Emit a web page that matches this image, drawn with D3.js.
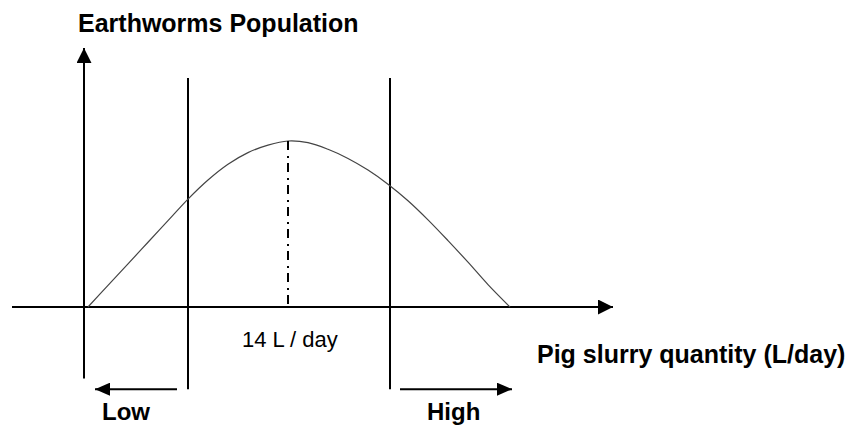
<!DOCTYPE html>
<html>
<head>
<meta charset="utf-8">
<script src="https://cdn.jsdelivr.net/npm/d3@7"></script>
<style>
  body { margin: 0; background: #fff; }
  text { font-family: "Liberation Sans", Arial, sans-serif; fill: #000; }
</style>
</head>
<body>
<div id="chart"></div>
<script>
// slurry quantity (L/day) vs relative earthworm population (peak = 100)
const slurry = [4, 5, 6, 7, 8, 9, 10, 11, 12, 13, 14, 15, 16, 17, 18, 19, 20, 21, 22, 23, 24, 25.1];
const population = [0, 13, 26, 39, 52, 65, 76.5, 86, 93, 97.5, 100, 99, 95, 89.5, 82.5, 74, 64, 52.5, 40, 27, 13.5, 0];

const optimum = 14;          // L/day at the peak
const lowLimit = 9;          // left boundary line
const highLimit = 19.1;      // right boundary line
const axisX = 3.8;           // where the y axis sits on the x scale
const xAxisRange = [0.2, 30.25];
const yAxisTop = 156;
const limitTop = 138;

const width = 850, height = 425;

const svg = d3.select("#chart").append("svg")
    .attr("width", width)
    .attr("height", height);

const x = d3.scaleLinear().domain([0, 30]).range([8, 608]);
const y = d3.scaleLinear().domain([0, 100]).range([307, 141]);

// arrow heads
const defs = svg.append("defs");
function marker(id, w, h) {
    defs.append("marker")
        .attr("id", id)
        .attr("markerUnits", "userSpaceOnUse")
        .attr("viewBox", `0 0 ${w} ${h}`)
        .attr("refX", w)
        .attr("refY", h / 2)
        .attr("markerWidth", w)
        .attr("markerHeight", h)
        .attr("orient", "auto")
        .append("path")
        .attr("d", `M0,0L${w},${h / 2}L0,${h}Z`)
        .attr("fill", "#000");
}
marker("bigArrow", 15, 15);
marker("smallArrow", 15, 13);

// axes
svg.append("line")
    .attr("x1", x(axisX)).attr("x2", x(axisX))
    .attr("y1", y(-43)).attr("y2", y(yAxisTop))
    .attr("stroke", "#000").attr("stroke-width", 2)
    .attr("marker-end", "url(#bigArrow)");

svg.append("line")
    .attr("x1", x(xAxisRange[0])).attr("x2", x(xAxisRange[1]))
    .attr("y1", y(0)).attr("y2", y(0))
    .attr("stroke", "#000").attr("stroke-width", 2)
    .attr("marker-end", "url(#bigArrow)");

// low / high boundary lines
[lowLimit, highLimit].forEach(v => {
    svg.append("line")
        .attr("x1", x(v)).attr("x2", x(v))
        .attr("y1", y(limitTop)).attr("y2", y(-49.5))
        .attr("stroke", "#000").attr("stroke-width", 2);
});

// the curve
const line = d3.line()
    .x((d, i) => x(slurry[i]))
    .y(d => y(d))
    .curve(d3.curveCatmullRom);

svg.append("path")
    .datum(population)
    .attr("d", line)
    .attr("fill", "none")
    .attr("stroke", "#444")
    .attr("stroke-width", 1.2);

// dash-dot line at the optimum
svg.append("line")
    .attr("x1", x(optimum)).attr("x2", x(optimum))
    .attr("y1", y(100)).attr("y2", y(0))
    .attr("stroke", "#000").attr("stroke-width", 2)
    .attr("stroke-dasharray", "9,6,2,5");

// low / high direction arrows
svg.append("line")
    .attr("x1", x(8.45)).attr("x2", x(4.35))
    .attr("y1", y(-49.5)).attr("y2", y(-49.5))
    .attr("stroke", "#000").attr("stroke-width", 2)
    .attr("marker-end", "url(#smallArrow)");

svg.append("line")
    .attr("x1", x(19.6)).attr("x2", x(25.2))
    .attr("y1", y(-49.5)).attr("y2", y(-49.5))
    .attr("stroke", "#000").attr("stroke-width", 2)
    .attr("marker-end", "url(#smallArrow)");

// labels
svg.append("text")
    .attr("x", 78).attr("y", 32)
    .attr("font-size", 25).attr("font-weight", "bold")
    .text("Earthworms Population");

svg.append("text")
    .attr("x", 537).attr("y", 363)
    .attr("font-size", 25).attr("font-weight", "bold")
    .text("Pig slurry quantity (L/day)");

svg.append("text")
    .attr("x", 242).attr("y", 347)
    .attr("font-size", 22)
    .text(optimum + " L / day");

svg.append("text")
    .attr("x", 102).attr("y", 420)
    .attr("font-size", 24).attr("font-weight", "bold")
    .text("Low");

svg.append("text")
    .attr("x", 427).attr("y", 420)
    .attr("font-size", 24).attr("font-weight", "bold")
    .text("High");
</script>
</body>
</html>
